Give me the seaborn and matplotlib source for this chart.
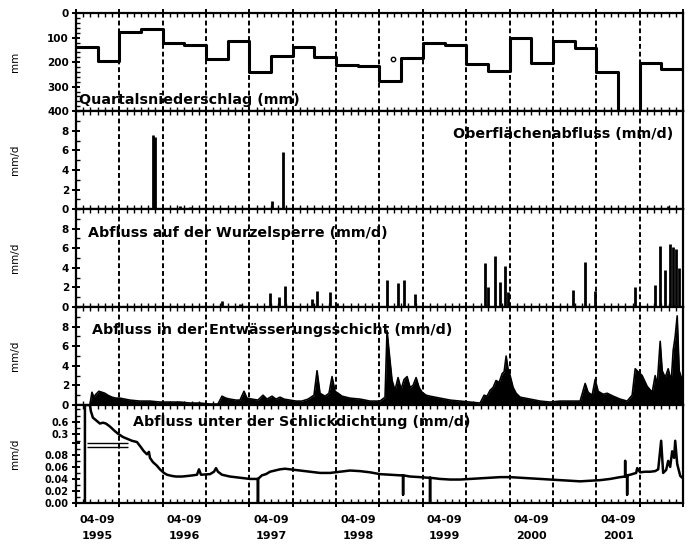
import numpy as np
import pandas as pd
import seaborn as sns
from matplotlib import pyplot as plt
from matplotlib.ticker import MultipleLocator, FixedLocator

# x values are decimal years (1995.25 = April 1995)
quarters = pd.period_range("1995Q2", periods=28, freq="Q")
precip_mm = [140, 195, 78, 65, 120, 128, 185, 115, 240, 175, 138, 180, 212, 216,
             275, 182, 120, 128, 207, 238, 100, 204, 115, 142, 241, 398, 204, 227]
precip_dot_t = [1998.91]
precip_dot_v = [185]

ober_t = [1996.138, 1996.161, 1996.450, 1996.565, 1997.511, 1997.638, 2002.078]
ober_v = [7.6, 7.4, 0.3, 0.2, 0.8, 5.8, 0.3]

wurzel_t = [1996.934, 1997.142, 1997.488, 1997.591, 1997.661, 1997.972, 1998.030, 1998.180,
            1998.260, 1998.837, 1998.964, 1999.033, 1999.160, 1999.967, 2000.002, 2000.083,
            2000.140, 2000.198, 2000.233, 2000.982, 2001.121, 2001.236, 2001.698, 2001.928,
            2001.986, 2002.044, 2002.101, 2002.136, 2002.170, 2002.205]
wurzel_v = [0.6, 0.3, 1.4, 1.0, 2.2, 0.8, 1.6, 1.5,
            0.4, 2.8, 2.5, 2.8, 1.3, 4.5, 2.0, 5.2,
            2.6, 4.2, 1.5, 1.7, 4.6, 1.6, 2.0, 2.3,
            6.2, 3.8, 6.4, 6.1, 5.9, 4.0]

ent_t = [1995.411, 1995.435, 1995.458, 1995.481, 1995.515, 1995.550, 1995.584, 1995.619, 1995.665, 1995.711,
         1995.758, 1995.815, 1995.873, 1995.988, 1996.104, 1996.219, 1996.334, 1996.450, 1996.565, 1996.680,
         1996.796, 1996.888, 1996.934, 1996.980, 1997.026, 1997.095, 1997.142, 1997.188, 1997.222, 1997.280,
         1997.349, 1997.407, 1997.453, 1997.511, 1997.557, 1997.603, 1997.649, 1997.718, 1997.788, 1997.857,
         1997.926, 1997.995, 1998.030, 1998.064, 1998.122, 1998.168, 1998.203, 1998.237, 1998.272, 1998.318,
         1998.410, 1998.526, 1998.641, 1998.756, 1998.814, 1998.837, 1998.860, 1998.895, 1998.929, 1998.964,
         1998.999, 1999.033, 1999.068, 1999.102, 1999.137, 1999.172, 1999.206, 1999.241, 1999.287, 1999.333,
         1999.448, 1999.564, 1999.679, 1999.794, 1999.910, 1999.956, 1999.990, 2000.025, 2000.060, 2000.094,
         2000.129, 2000.164, 2000.187, 2000.210, 2000.233, 2000.256, 2000.290, 2000.325, 2000.371, 2000.486,
         2000.602, 2000.717, 2000.832, 2000.948, 2001.063, 2001.121, 2001.155, 2001.202, 2001.236, 2001.271,
         2001.328, 2001.375, 2001.444, 2001.524, 2001.605, 2001.663, 2001.698, 2001.732, 2001.778, 2001.836,
         2001.894, 2001.928, 2001.951, 2001.986, 2002.009, 2002.044, 2002.078, 2002.113, 2002.136, 2002.159,
         2002.182, 2002.205, 2002.240]
ent_v = [0.0, 1.3, 0.8, 1.1, 1.4, 1.3, 1.2, 1.0, 0.8, 0.7,
         0.7, 0.6, 0.5, 0.4, 0.4, 0.3, 0.3, 0.3, 0.2, 0.2,
         0.1, 0.1, 0.9, 0.7, 0.6, 0.5, 0.5, 1.4, 0.7, 0.6,
         0.5, 1.0, 0.6, 0.9, 0.6, 0.8, 0.6, 0.5, 0.4, 0.4,
         0.6, 1.0, 3.5, 1.2, 0.9, 1.2, 2.9, 1.4, 1.2, 0.9,
         0.7, 0.6, 0.4, 0.4, 0.8, 7.6, 5.5, 2.5, 1.5, 2.8,
         1.6, 2.6, 2.9, 1.8, 2.0, 2.8, 1.8, 1.3, 1.0, 0.9,
         0.7, 0.5, 0.4, 0.3, 0.2, 1.0, 0.9, 1.5, 1.8, 2.5,
         2.3, 3.2, 3.4, 5.0, 3.6, 3.0, 1.8, 1.2, 0.8, 0.6,
         0.4, 0.3, 0.4, 0.4, 0.4, 2.2, 1.3, 1.0, 2.6, 1.4,
         1.1, 1.2, 0.9, 0.6, 0.4, 1.0, 3.7, 3.4, 3.0, 1.9,
         1.3, 3.0, 2.0, 6.5, 3.5, 2.8, 3.7, 2.4, 5.6, 7.0,
         9.1, 3.5, 2.5]

schlick_t = [1995.354, 1995.354, 1995.411, 1995.423, 1995.446, 1995.492, 1995.527, 1995.561, 1995.596, 1995.642,
             1995.688, 1995.734, 1995.792, 1995.838, 1995.896, 1995.954, 1995.988, 1996.034, 1996.069, 1996.092,
             1996.104, 1996.138, 1996.184, 1996.219, 1996.265, 1996.300, 1996.357, 1996.403, 1996.473, 1996.542,
             1996.600, 1996.646, 1996.669, 1996.692, 1996.796, 1996.842, 1996.865, 1996.888, 1996.934, 1997.026,
             1997.142, 1997.257, 1997.315, 1997.349, 1997.349, 1997.349, 1997.395, 1997.441, 1997.488, 1997.545,
             1997.603, 1997.661, 1997.718, 1997.776, 1997.834, 1997.949, 1998.064, 1998.180, 1998.295, 1998.410,
             1998.526, 1998.641, 1998.756, 1998.872, 1998.987, 1999.022, 1999.022, 1999.022, 1999.102, 1999.218,
             1999.310, 1999.333, 1999.333, 1999.333, 1999.448, 1999.564, 1999.679, 1999.794, 1999.910, 2000.025,
             2000.140, 2000.256, 2000.371, 2000.486, 2000.602, 2000.717, 2000.832, 2000.948, 2001.063, 2001.178,
             2001.294, 2001.409, 2001.524, 2001.582, 2001.582, 2001.582, 2001.605, 2001.605, 2001.605, 2001.640,
             2001.709, 2001.721, 2001.755, 2001.813, 2001.871, 2001.928, 2001.963, 2001.997, 2002.020, 2002.055,
             2002.078, 2002.101, 2002.124, 2002.147, 2002.159, 2002.182, 2002.217, 2002.240]
schlick_v = [0.0, 1.0, 1.0, 0.85, 0.70, 0.62, 0.56, 0.58, 0.56, 0.49,
             0.40, 0.32, 0.24, 0.20, 0.15, 0.12, 0.095, 0.086, 0.081, 0.085,
             0.075, 0.068, 0.062, 0.056, 0.050, 0.047, 0.045, 0.044, 0.044, 0.045,
             0.046, 0.047, 0.056, 0.047, 0.048, 0.052, 0.058, 0.052, 0.047, 0.044,
             0.042, 0.040, 0.040, 0.040, 0.0, 0.040, 0.046, 0.048, 0.052, 0.054,
             0.056, 0.057, 0.056, 0.055, 0.054, 0.052, 0.050, 0.050, 0.052, 0.054,
             0.053, 0.051, 0.048, 0.047, 0.046, 0.046, 0.014, 0.046, 0.044, 0.043,
             0.042, 0.042, 0.0, 0.042, 0.040, 0.039, 0.039, 0.040, 0.041, 0.042,
             0.043, 0.043, 0.042, 0.041, 0.040, 0.039, 0.038, 0.037, 0.036, 0.037,
             0.038, 0.040, 0.043, 0.044, 0.070, 0.044, 0.045, 0.014, 0.046, 0.047,
             0.050, 0.058, 0.051, 0.052, 0.052, 0.053, 0.056, 0.15, 0.050, 0.055,
             0.070, 0.060, 0.086, 0.075, 0.15, 0.065, 0.045, 0.042]
schlick_break = [0.093, 0.104]

half_year_bounds = [1995.75, 1996.25, 1996.75, 1997.25, 1997.75, 1998.25, 1998.75,
                    1999.25, 1999.75, 2000.25, 2000.75, 2001.25, 2001.75]
summer_mid = [1995.5, 1996.5, 1997.5, 1998.5, 1999.5, 2000.5, 2001.5]
year_labels = ["04-09\n1995", "04-09\n1996", "04-09\n1997", "04-09\n1998",
               "04-09\n1999", "04-09\n2000", "04-09\n2001"]

titles = ["Quartalsniederschlag (mm)", "Oberflächenabfluss (mm/d)",
          "Abfluss auf der Wurzelsperre (mm/d)", "Abfluss in der Entwässerungsschicht (mm/d)",
          "Abfluss unter der Schlickdichtung (mm/d)"]


def fwd(y):
    y = np.asarray(y, dtype=float)
    return np.where(y <= 0.1, y, 0.1 + (y - 0.1) * 0.07)


def inv(y):
    y = np.asarray(y, dtype=float)
    return np.where(y <= 0.1, y, 0.1 + (y - 0.1) / 0.07)


sns.set_style("ticks")
plt.rcParams["font.family"] = ["DejaVu Sans"]
plt.rcParams["font.weight"] = "bold"
plt.rcParams["axes.linewidth"] = 1.6
for key in ("text.color", "axes.labelcolor", "axes.edgecolor", "xtick.color", "ytick.color"):
    plt.rcParams[key] = "black"

fig, axes = plt.subplots(5, 1, figsize=(6.9, 5.5), dpi=100, sharex=True)
fig.subplots_adjust(left=0.110, right=0.990, top=0.976, bottom=0.0855, hspace=0)
ax1, ax2, ax3, ax4, ax5 = axes

# quarterly precipitation, step line, inverted axis
step_t = [q.year + (q.quarter - 1) / 4 for q in quarters] + [2002.25]
step_v = precip_mm + [precip_mm[-1]]
sns.lineplot(x=step_t, y=step_v, ax=ax1, color="black", lw=2.2, drawstyle="steps-post",
             estimator=None, sort=False)
ax1.scatter(precip_dot_t, precip_dot_v, s=10, facecolor="white", edgecolor="black", lw=1, zorder=3)
ax1.set_ylim(400, 0)
ax1.yaxis.set_major_locator(MultipleLocator(100))
ax1.yaxis.set_minor_locator(MultipleLocator(20))
ax1.set_ylabel("mm")

# spike panels
ax2.vlines(ober_t, 0, ober_v, color="black", lw=2)
ax3.vlines(wurzel_t, 0, wurzel_v, color="black", lw=2)

# drainage layer
sns.lineplot(x=ent_t, y=ent_v, ax=ax4, color="black", lw=1.2, estimator=None, sort=False)
ax4.fill_between(ent_t, 0, ent_v, color="black", lw=0)

for ax in (ax2, ax3, ax4):
    ax.set_ylim(0, 10)
    ax.yaxis.set_major_locator(FixedLocator([0, 2, 4, 6, 8]))
    ax.yaxis.set_minor_locator(MultipleLocator(1))
    ax.set_ylabel("mm/d")

# below the silt seal, broken linear scale
sns.lineplot(x=schlick_t, y=schlick_v, ax=ax5, color="black", lw=1.8, estimator=None, sort=False)
ax5.set_yscale("function", functions=(fwd, inv))
ax5.set_ylim(0, 1.0)
ax5.hlines(schlick_break, 1995.38, 1995.85, color="black", lw=1)
ax5.set_yticks([0, 0.02, 0.04, 0.06, 0.08, 0.1, 0.3, 0.6],
               ["0.00", "0.02", "0.04", "0.06", "0.08", "", "0.3", "0.6"])
ax5.yaxis.set_minor_locator(FixedLocator([0.01, 0.03, 0.05, 0.07, 0.09, 0.15, 0.45, 0.75, 0.9]))
ax5.set_ylabel("mm/d")

title_pos = [(0.005, 0.11, "left"), (0.984, 0.77, "right"), (0.02, 0.76, "left"),
             (0.026, 0.77, "left"), (0.094, 0.83, "left")]
for ax, title, (tx, ty, ha) in zip(axes, titles, title_pos):
    ax.text(tx, ty, title, transform=ax.transAxes, ha=ha, va="center",
            fontsize=10.3, fontweight="bold")
    for b in half_year_bounds:
        ax.axvline(b, color="black", lw=1.4, ls=(0, (2.5, 1.5)), zorder=1)
    ax.set_xlim(1995.25, 2002.25)
    ax.xaxis.set_major_locator(FixedLocator([1995.25] + half_year_bounds + [2002.25]))
    ax.xaxis.set_minor_locator(MultipleLocator(1 / 12))
    ax.tick_params(axis="x", which="major", direction="inout", length=6, width=1.4,
                   top=True, bottom=True, labelbottom=False)
    ax.tick_params(axis="x", which="minor", direction="in", length=3, width=1,
                   top=True, bottom=True)
    ax.tick_params(axis="y", which="major", direction="inout", length=6, width=1.4,
                   labelsize=7.5, pad=2)
    ax.tick_params(axis="y", which="minor", direction="in", length=3, width=1)
    ax.yaxis.label.set_size(7.5)
    ax.yaxis.set_label_coords(-0.092, 0.5)

ax5.tick_params(axis="y", which="major", labelsize=7)

sec = ax5.secondary_xaxis("bottom")
sec.set_xticks(summer_mid, year_labels)
sec.tick_params(length=0, pad=9, labelsize=8)
sec.spines["bottom"].set_visible(False)
for lab in sec.get_xticklabels():
    lab.set_linespacing(1.7)

fig.savefig("out.png", dpi=100)
